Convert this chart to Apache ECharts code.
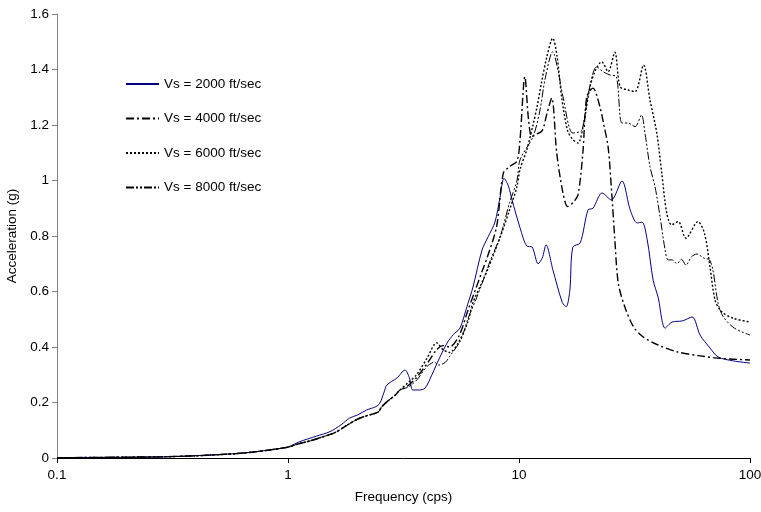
<!DOCTYPE html>
<html><head><meta charset="utf-8">
<script src="https://cdn.jsdelivr.net/npm/echarts@6/dist/echarts.min.js"></script>
<style>html,body{margin:0;padding:0;background:#fff}#c{width:761px;height:512px}</style>
</head><body><div id="c"></div>
<script>
var seriesNames = ['Vs = 2000 ft/sec','Vs = 4000 ft/sec','Vs = 6000 ft/sec','Vs = 8000 ft/sec'];
var xTicks = [0.1, 1, 10, 100];
var yTicks = [0,0.2,0.4,0.6,0.8,1,1.2,1.4,1.6];

var vs2000 = [[0.1,0.001],[0.15,0.002],[0.27,0.003],[0.44,0.010],[0.6,0.016],[0.73,0.023],[0.85,0.03],[1.0,0.040],[1.125,0.059],[1.33,0.079],[1.52,0.095],[1.7,0.12],[1.85,0.144],[2.0,0.155],[2.19,0.173],[2.4,0.185],[2.5,0.198],[2.6,0.235],[2.68,0.263],[2.96,0.288],[3.21,0.317],[3.35,0.29],[3.47,0.245],[3.7,0.245],[3.92,0.252],[4.2,0.3],[4.42,0.342],[4.88,0.414],[5.2,0.445],[5.55,0.468],[5.95,0.545],[6.32,0.616],[6.92,0.75],[7.35,0.797],[7.87,0.85],[8.28,0.94],[8.61,1.008],[9.0,0.98],[9.33,0.93],[10.1,0.83],[10.8,0.764],[11.4,0.76],[12.1,0.70],[12.6,0.72],[13.1,0.768],[14.0,0.68],[15.4,0.56],[16.0,0.545],[16.6,0.605],[17.1,0.76],[18.4,0.775],[19.9,0.894],[20.9,0.90],[22.9,0.955],[25.1,0.93],[27.9,0.998],[30.3,0.894],[32.5,0.847],[34.1,0.85],[35.9,0.786],[38.1,0.64],[40.0,0.58],[42.9,0.468],[46.0,0.49],[50.9,0.494],[56.2,0.508],[60.8,0.443],[67.2,0.396],[72.8,0.364],[84.6,0.35],[100,0.342]];

var vs4000 = [[0.1,0.001],[0.15,0.002],[0.2,0.003],[0.3,0.005],[0.4,0.008],[0.5,0.012],[0.6,0.016],[0.7,0.021],[0.8,0.027],[0.9,0.033],[1.0,0.039],[1.1,0.05],[1.25,0.062],[1.4,0.075],[1.6,0.092],[1.8,0.118],[2.0,0.14],[2.2,0.153],[2.45,0.165],[2.55,0.185],[2.7,0.205],[2.9,0.225],[3.05,0.245],[3.3,0.26],[3.6,0.29],[4.0,0.34],[4.4,0.39],[4.7,0.405],[5.0,0.40],[5.5,0.44],[6.0,0.53],[6.5,0.61],[6.9,0.67],[7.3,0.725],[8.0,0.834],[8.55,1.026],[9.1,1.05],[9.8,1.07],[10.1,1.146],[10.6,1.374],[11.0,1.218],[11.35,1.158],[11.8,1.165],[12.6,1.18],[13.2,1.24],[13.86,1.297],[14.56,1.10],[15.5,0.955],[16.25,0.906],[17.1,0.92],[18.0,0.948],[18.9,1.10],[19.65,1.302],[20.9,1.333],[22.4,1.266],[23.3,1.2],[24.3,1.122],[25.2,0.955],[26.0,0.786],[26.9,0.63],[28.7,0.545],[31.3,0.473],[34.4,0.437],[40.1,0.407],[48.2,0.383],[60.9,0.368],[74.4,0.359],[100,0.353]];

var vs6000 = [[0.1,0.001],[0.15,0.002],[0.2,0.003],[0.3,0.005],[0.4,0.008],[0.5,0.012],[0.6,0.016],[0.7,0.021],[0.8,0.027],[0.9,0.033],[1.0,0.039],[1.1,0.05],[1.25,0.062],[1.4,0.075],[1.6,0.092],[1.8,0.118],[2.0,0.14],[2.2,0.153],[2.45,0.165],[2.55,0.185],[2.7,0.205],[2.9,0.225],[3.05,0.245],[3.3,0.27],[3.6,0.30],[4.0,0.36],[4.4,0.415],[4.7,0.39],[5.0,0.38],[5.5,0.42],[6.0,0.49],[6.3,0.557],[6.8,0.62],[7.3,0.677],[8.3,0.797],[9.1,0.894],[9.8,0.978],[10.1,1.04],[10.8,1.11],[11.5,1.2],[12.0,1.27],[12.5,1.35],[13.2,1.446],[14.0,1.513],[14.6,1.45],[15.3,1.3],[16.2,1.182],[17.0,1.15],[18.0,1.135],[19.0,1.2],[20.3,1.338],[21.5,1.4],[22.8,1.428],[24.3,1.392],[26.0,1.462],[27.4,1.338],[29.7,1.326],[31.8,1.32],[34.6,1.416],[36.9,1.29],[39.5,1.171],[41.5,1.027],[43.6,0.883],[45.8,0.84],[48.9,0.852],[52.8,0.792],[59.5,0.852],[63.5,0.81],[67.1,0.69],[70.6,0.569],[75.4,0.527],[84.9,0.503],[100,0.49]];

var vs8000 = [[0.1,0.001],[0.15,0.002],[0.2,0.003],[0.3,0.005],[0.4,0.008],[0.5,0.012],[0.6,0.016],[0.7,0.021],[0.8,0.027],[0.9,0.033],[1.0,0.039],[1.1,0.05],[1.25,0.062],[1.4,0.075],[1.6,0.092],[1.8,0.118],[2.0,0.14],[2.2,0.153],[2.45,0.165],[2.55,0.185],[2.7,0.205],[2.9,0.225],[3.05,0.245],[3.3,0.255],[3.6,0.28],[4.0,0.33],[4.3,0.345],[4.5,0.335],[4.8,0.345],[5.0,0.365],[5.6,0.425],[6.0,0.50],[6.5,0.57],[7.0,0.64],[7.5,0.71],[8.3,0.80],[9.1,0.92],[9.8,1.0],[10.1,1.074],[11.5,1.158],[12.3,1.25],[13.0,1.37],[14.0,1.464],[14.8,1.39],[15.5,1.302],[17.1,1.171],[18.7,1.182],[19.9,1.308],[21.7,1.41],[23.1,1.392],[24.8,1.38],[26.4,1.374],[27.9,1.207],[29.7,1.207],[31.8,1.194],[33.9,1.236],[35.1,1.171],[36.9,1.05],[38.8,0.978],[40.8,0.87],[42.9,0.75],[44.2,0.714],[46.0,0.714],[48.3,0.70],[50.5,0.716],[52.8,0.695],[55.8,0.725],[58.9,0.735],[63.2,0.72],[66.7,0.714],[69.1,0.677],[72.8,0.557],[76.6,0.509],[85.6,0.468],[100,0.443]];

var font = 'Liberation Sans, Arial, sans-serif';
var chart = echarts.init(document.getElementById('c'), null, {renderer:'canvas'});
function line(name, data, color, width, type) {
  return {name:name, type:'line', data:data, symbol:'none', showSymbol:false, smooth:0.3,
    lineStyle:{color:color, width:width, type:type}, itemStyle:{color:color}};
}
chart.setOption({
  animation:false,
  backgroundColor:'#fff',
  grid:{left:57, right:11, top:14, bottom:54, containLabel:false, outerBoundsMode:'none'},
  legend:{
    orient:'vertical', left:125, top:77, padding:0, itemWidth:33, itemHeight:14, itemGap:20.5,
    itemStyle:{opacity:0},
    textStyle:{fontFamily:font, fontSize:13.5, color:'#000'},
    data:seriesNames
  },
  xAxis:{
    type:'log', logBase:10, min:xTicks[0], max:xTicks[xTicks.length-1],
    name:'Frequency (cps)', nameLocation:'middle', nameGap:32,
    nameTextStyle:{fontFamily:font, fontSize:13.5, color:'#000'},
    axisLine:{lineStyle:{color:'#000', width:1}},
    axisTick:{show:true, length:5, lineStyle:{color:'#000'}},
    minorTick:{show:false}, splitLine:{show:false},
    axisLabel:{fontFamily:font, fontSize:13.5, color:'#000', margin:10,
      formatter:function(v){return String(+v.toPrecision(3));}}
  },
  yAxis:{
    type:'value', min:yTicks[0], max:yTicks[yTicks.length-1], interval:0.2,
    name:'Acceleration (g)', nameLocation:'middle', nameGap:37, nameRotate:90,
    nameTextStyle:{fontFamily:font, fontSize:13.5, color:'#000'},
    axisLine:{show:true, lineStyle:{color:'#808080', width:1}},
    axisTick:{show:true, length:5, lineStyle:{color:'#808080'}},
    splitLine:{show:false},
    axisLabel:{fontFamily:font, fontSize:13.5, color:'#000', margin:8,
      formatter:function(v){return String(+v.toFixed(1));}}
  },
  series:[
    line(seriesNames[0], vs2000, '#000080', 1, 'solid'),
    line(seriesNames[1], vs4000, '#000', 1.4, [8,3,2,3]),
    line(seriesNames[2], vs6000, '#000', 1.4, [2,2]),
    line(seriesNames[3], vs8000, '#000', 1, [8,2,2,2,2,2])
  ]
});
</script></body></html>
